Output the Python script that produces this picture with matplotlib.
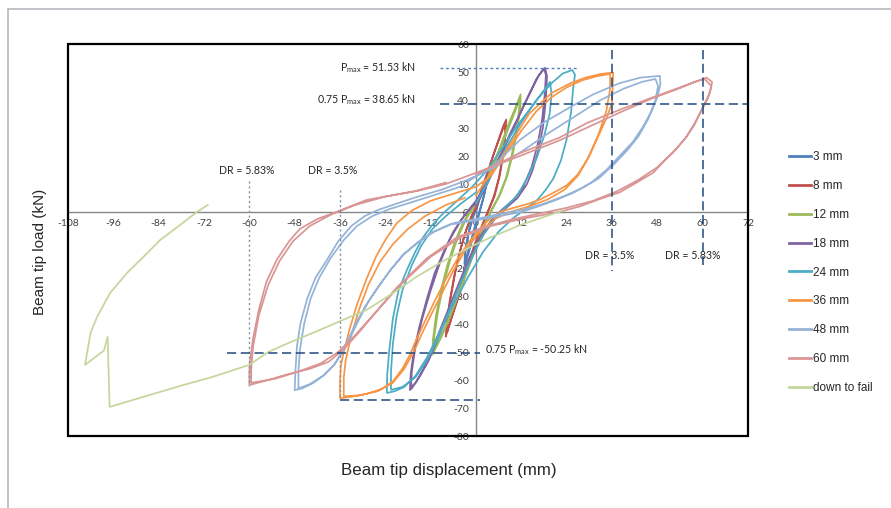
import matplotlib
matplotlib.use("Agg")
import matplotlib.pyplot as plt
from matplotlib.patches import Rectangle
from matplotlib.lines import Line2D

# ---------------- data ----------------
x_ticks = [-108, -96, -84, -72, -60, -48, -36, -24, -12, 0, 12, 24, 36, 48, 60, 72]
y_ticks = [-80, -70, -60, -50, -40, -30, -20, -10, 0, 10, 20, 30, 40, 50, 60]

series_names = ["3 mm", "8 mm", "12 mm", "18 mm", "24 mm", "36 mm", "48 mm", "60 mm", "down to fail"]
series_colors = ["#4F81BD", "#C0504D", "#9BBB59", "#8064A2", "#4BACC6", "#F79646", "#95B3D7", "#D99694", "#C3D69B"]

x_3mm = [0, 1, 2, 3, 3, 2.5, 1.8, 1, 0, -1, -2, -3, -3, -2.5, -1.8, -1, 0, 1, 2, 3, 2.9, 2.3, 1.5, 0.6, -0.5, -1.5, -2.5, -3, -2.8, -2, -1, 0]
y_3mm = [0, 5, 10, 14, 12, 8, 4, 0, -5, -10, -15, -19, -16, -11, -6, -2, 2, 6, 10.5, 13.5, 11, 7, 3, -1, -6, -11, -16, -18.5, -14, -8, -3, 1]

x_8mm = [0, 2, 4, 6, 7.3, 8, 7.9, 7.3, 6.3, 5, 3.5, 2, 0, -2, -4, -6, -7.5, -8, -7.8, -7, -5.8, -4.5, -3, -1.5, 0,
         2, 4, 6, 7.5, 7.8, 7.1, 6, 4.7, 3.2, 1.5, -0.5, -2.5, -4.5, -6.3, -7.6, -7.5, -6.6, -5.4, -4, -2.5, -1, 0.5]
y_8mm = [1, 9, 18, 26, 31, 33, 29, 21, 13, 6, 1, -4, -11, -19, -28, -36, -42, -44.5, -40, -32, -23, -15, -8, -2.5, 2,
         9.5, 18, 25.5, 31, 28, 20, 12, 5.5, 0.5, -5, -12, -20.5, -29.5, -37, -43, -38, -30, -21, -13, -6, -1, 3]

x_12mm = [0, 3, 6, 8.5, 10.5, 11.8, 11.8, 11, 9.8, 8.3, 6.5, 4.5, 2.5, 0.5, -2, -4.5, -7, -9.3, -11.2, -11.6, -11.4, -10.6,
          -9.3, -7.6, -5.7, -3.7, -1.5, 1, 3.5, 6, 8.5, 10.5, 11.5, 11.4, 10.6, 9.4, 7.9, 6, 4, 2, 0, -2.5, -5, -7.5,
          -9.8, -11.2, -11, -10, -8.6, -6.8, -4.8, -2.6, -0.5]
y_12mm = [2, 12, 22, 31, 37.5, 42, 38, 30, 21, 13, 6.5, 1.5, -4, -11, -20, -29, -38, -45, -50, -51, -45.5, -37,
          -28, -19, -11, -4.5, 0.5, 5.5, 13, 21, 29.5, 36.5, 40.5, 36.5, 28.5, 20, 12, 5.5, 0.5, -5, -12, -21, -30.5, -39,
          -46, -49.5, -44, -35, -26, -17, -9, -2.5, 2]

x_18mm = [0, 3, 6, 9, 11.6, 14, 16, 17.5, 18.3, 18.8, 18.5, 17.7, 16.5, 15, 13.5, 11, 8, 5, 2, -1, -4, -7, -10, -12.5,
          -15, -17, -17.5, -17.3, -16.5, -15, -13, -11, -8.5, -6, -3, 0, 3, 6, 9, 12, 14.5, 16.5, 18, 18.5, 18.2, 17.5,
          16.3, 14.7, 12.5, 10, 7, 4, 1, -2, -5, -8, -11, -13.5, -16, -17.2, -17, -16, -14.2, -12, -9.5, -7, -4, -1, 0]
y_18mm = [2, 10, 19, 28, 35, 42, 47.5, 50.5, 51.5, 48.5, 40, 30, 22, 15, 10, 5, 1.5, -2.5, -8, -16, -25, -35, -45, -53,
          -59, -63, -63.6, -58, -50, -41, -31, -22, -14, -7, -1, 4, 11, 19, 27, 36, 43, 48.5, 51, 49, 42, 33,
          24, 16, 9, 4.5, 1, -3, -9, -17, -27, -37, -47, -55, -61, -62.5, -57, -48, -38, -28, -18, -10, -3, 2, 3]

x_24mm = [0, 4, 8, 12, 16, 20, 23, 25.5, 26.2, 25.7, 25.2, 24, 22.5, 20.5, 18.5, 16, 13.5, 10, 6, 2, -2, -6, -10, -13,
          -16, -19, -21.5, -23.6, -23.5, -23, -22, -20.5, -18.3, -16, -14, -11.5, -8.7, -5, -1, 3, 7, 11, 15, 18, 19.6,
          20, 19.5, 18, 16, 13.5, 11, 8, 5, 2, -1, -4, -7, -10, -13, -16, -19.5, -22.5, -22.5, -22, -21, -19.5, -17,
          -14.5, -11.5, -8, -4, 0]
y_24mm = [3, 13, 23, 32, 40, 46, 49.5, 50.7, 49, 44, 36, 26, 18.5, 12, 8, 4, 1.5, -2, -7, -14, -23, -33, -44, -52,
          -58.5, -62.5, -64, -64.6, -58, -50, -38, -28, -20.7, -14, -9, -4.5, -0.5, 4, 9, 15, 23, 31, 38, 43.5, 46.5,
          42, 35, 27, 19, 12, 6, 2, -2, -8, -16, -25, -35, -45, -53, -59, -62.5, -63.5, -57, -47, -37, -28, -19,
          -12, -6, -1.5, 3, 7]

x_36mm = [0, 3, 8, 14, 20, 25, 29, 33, 36.3, 36.2, 36, 34.7, 32, 29.4, 27, 24, 20.4, 17, 14, 10, 7, 4, 1, -2, -5, -8,
          -11, -13.5, -15.6, -17.5, -19.5, -22, -25, -29, -33, -36, -36, -35.8, -35, -33.5, -31.5, -29, -26.5, -24,
          -21, -17, -12, -6, 0, 4, 8, 12, 16, 20, 24, 28, 32, 35.5, 35.5, 34.5, 32.5, 30, 27, 23.5, 19, 14, 9, 5, 1,
          -3, -6, -9, -12, -14.5, -16.5, -19, -22, -26, -31, -35, -35, -34.5, -33, -31, -28.5, -25.5, -22, -18, -13.5,
          -8, -3]
y_36mm = [6, 12, 22, 35, 42.5, 46, 48, 49.3, 49.8, 45, 39, 34, 26, 18.6, 13.5, 9.5, 6.8, 4.5, 3, 1.5, 0.3, -2, -6, -11,
          -17, -24, -32, -39, -45, -51, -56, -60.5, -63.2, -65, -66, -66.5, -61, -55, -50, -42, -33, -24, -16, -10,
          -4, 0.5, 4, 6.5, 9, 13, 21, 29, 36, 41, 44.5, 47, 48.5, 49.3, 44, 36, 28, 20, 13, 8, 4.5, 2, 0, -2.5, -7,
          -14, -21, -29, -37, -44, -50, -56, -61, -64, -65.5, -65.8, -59, -53, -44, -35, -26, -18, -11.5, -6, -1.5,
          2.5, 5]

x_48mm = [-2, 5, 11.6, 18, 25, 31, 38, 43.5, 48.7, 48.8, 48, 46.5, 44, 41.5, 38, 34.5, 30.5, 26, 21, 16.5, 12, 6, 0,
          -7, -12, -15.6, -19.5, -22.8, -26, -29, -31.5, -33.5, -35.5, -37.5, -40, -43, -46, -48, -47.8, -47.4, -46.5,
          -44.7, -42.5, -39.4, -36.5, -33, -29.5, -26, -21, -15.6, -9, -2.4, 5, 12, 19, 26, 33, 39, 44, 47.5, 48.2,
          47.5, 45.5, 43, 40, 36.5, 32.5, 28, 23, 18, 13, 7, 0, -6, -11, -15, -19, -22.5, -25.5, -28.5, -31, -33,
          -35, -37.5, -40.5, -44, -47, -47, -46.6, -45.5, -43.8, -41.5, -38.5, -35, -31.5, -27.5, -23, -17, -10, -3]
y_48mm = [11, 17, 25.7, 32, 37.5, 42, 46, 48, 48.6, 45.5, 41, 36, 30, 25, 20, 15, 10.5, 7, 4.2, 2, 0, -1.5, -3,
          -4.5, -7.5, -11, -15.5, -21, -27, -33, -39, -44.5, -50, -54.5, -58, -61, -63, -63.6, -57, -48, -40,
          -31, -23.5, -17, -10.5, -5, -1.5, 0.7, 3, 5.4, 8, 11.4, 16, 21.5, 28, 34, 40, 44, 46.5, 47.5, 45,
          40, 33, 27, 22, 17, 12, 8.5, 5.5, 3, 1, -0.5, -2.5, -4, -7, -10.5, -15, -20.5, -26, -32, -38.5, -44,
          -49.5, -54.5, -58.5, -61.5, -63, -57, -49, -40, -31, -23.5, -16.5, -10, -5, -1.5, 1, 3.5, 6.5, 9.5]

x_60mm = [0, 11.6, 22, 29.4, 38, 46.9, 54, 58, 61, 62.5, 62, 61, 59.5, 57.8, 55.8, 53, 50, 46.9, 42.5, 38, 32.5,
          27.5, 22, 12, 4, -4, -12, -20, -26, -31, -35, -39, -44, -50, -55, -60, -60, -59.8, -59, -57.5, -55.5,
          -52.7, -49.5, -46.6, -42, -37, -29, -22, -15.6, -8, 0, 11.6, 22, 30, 38, 46.5, 53.5, 58, 60.5, 62.3,
          61.5, 60, 58, 55.5, 52, 48, 43, 37.5, 31, 24, 17, 10, 3, -5, -13, -21, -27, -32, -36.5, -41, -47, -53,
          -59.5, -59.5, -59, -57.5, -55, -52, -48.5, -44, -38.5, -32, -24, -16, -8]
y_60mm = [13.5, 21, 26.5, 31.8, 36.5, 41, 44.5, 46.5, 48, 46.4, 43, 40, 36, 31, 27, 22.5, 18.5, 14, 10.5, 7, 4.5,
          2, 0, -2.5, -5, -9, -16, -26, -35, -43, -49, -53.5, -56, -58, -60, -61.8, -57, -53, -45, -35, -25,
          -17, -10.5, -6, -2.5, 0, 4.3, 6, 7.5, 10, 14, 20, 25.5, 30.5, 35.5, 40.5, 44, 46.5, 47.5, 45,
          41, 37, 32, 26.5, 21, 16, 11.5, 7.5, 4, 1.5, -0.5, -2.5, -5, -9, -16.5, -27, -36.5, -44, -50, -54, -57,
          -59.5, -61, -56, -48, -37, -26, -17.5, -10.5, -5, -1, 2.5, 5.5, 7.5, 10.5]

x_fail = [23, 12, 4, 0, -8, -15.6, -22, -29, -36, -42, -50, -55, -60, -70, -78, -88, -97, -97.5, -98.5, -103.5,
          -102, -100.3, -96.9, -92.4, -88, -83.6, -78.3, -73.9, -71]
y_fail = [0.5, -4.5, -9, -11.5, -17, -23, -29, -35, -39, -42.5, -47, -50, -54.6, -59, -62, -66, -69.6, -44.6, -49.5,
          -54.6, -43, -37.5, -29, -21.8, -16, -10, -4.6, 0, 2.5]

series_x = [x_3mm, x_8mm, x_12mm, x_18mm, x_24mm, x_36mm, x_48mm, x_60mm, x_fail]
series_y = [y_3mm, y_8mm, y_12mm, y_18mm, y_24mm, y_36mm, y_48mm, y_60mm, y_fail]

p_max = 51.53
p75_pos = 38.65
p75_neg = -50.25
p_min = -67.0
dr_35 = 36
dr_583 = 60

# ---------------- figure ----------------
W, H = 891, 508
fig = plt.figure(figsize=(W / 100, H / 100), dpi=100)
fig.patch.set_facecolor("white")

# outer light border
fig.add_artist(Rectangle((8 / W, -0.1), 1.2, 1 - 9 / H + 0.1, transform=fig.transFigure,
                         fill=False, edgecolor="#B4B8BE", lw=1.2))

ax = fig.add_axes([68 / W, 1 - 436 / H, 680 / W, 392 / H])
ax.set_xlim(-108, 72)
ax.set_ylim(-80, 60)

for s in ["top", "right"]:
    ax.spines[s].set_visible(False)
ax.spines["left"].set_position(("data", 0))
ax.spines["bottom"].set_position(("data", 0))
for s in ["left", "bottom"]:
    ax.spines[s].set_color("#868686")
    ax.spines[s].set_linewidth(1.0)
    ax.spines[s].set_zorder(1)

# plot-area frame
ax.add_patch(Rectangle((0, 0), 1, 1, transform=ax.transAxes, fill=False,
                       edgecolor="black", lw=1.6, zorder=10, clip_on=False))

tick_font = dict(family=["Lato", "DejaVu Sans"], size=7.5, color="#404040")
ax.set_xticks(x_ticks)
ax.set_yticks(y_ticks)
ax.set_xticklabels([str(v) for v in x_ticks], **tick_font)
ax.set_yticklabels([str(v) for v in y_ticks], **tick_font)
ax.tick_params(axis="both", length=0, pad=5)

# series
for xs, ys, c in zip(series_x, series_y, series_colors):
    ax.plot(xs, ys, color=c, lw=1.25, solid_joinstyle="round", zorder=3)

# reference lines
dark = "#1F497D"
ax.plot([-9.5, 26.7], [p_max, p_max], color="#4F81BD", lw=1.0, ls=(0, (2, 2)), zorder=4)
ax.plot([-9.5, 72], [p75_pos, p75_pos], color=dark, lw=1.1, ls=(0, (6, 3)), zorder=4)
ax.plot([dr_35, dr_35], [58, -21], color=dark, lw=1.1, ls=(0, (6, 3)), zorder=4)
ax.plot([dr_583, dr_583], [58, -19], color=dark, lw=1.1, ls=(0, (6, 3)), zorder=4)
ax.plot([-dr_583, -dr_583], [11, -62], color="#7F8FA9", lw=1.0, ls=(0, (1.5, 2)), zorder=4)
ax.plot([-dr_35, -dr_35], [8, -66.5], color="#7F8FA9", lw=1.0, ls=(0, (1.5, 2)), zorder=4)
ax.plot([-66, 1], [p75_neg, p75_neg], color=dark, lw=1.1, ls=(0, (6, 3)), zorder=4)
ax.plot([-36, 1], [p_min, p_min], color=dark, lw=1.1, ls=(0, (6, 3)), zorder=4)

ann = dict(family=["Lato", "DejaVu Sans"], size=7.6, color="#262626", zorder=6)
ax.text(-16, 51.53, r"P$_{\mathregular{max}}$ = 51.53 kN", ha="right", va="center", **ann)
ax.text(-16, 40, r"0.75 P$_{\mathregular{max}}$ = 38.65 kN", ha="right", va="center", **ann)
ax.text(-60.6, 15, "DR = 5.83%", ha="center", va="center", **ann)
ax.text(-38, 15, "DR = 3.5%", ha="center", va="center", **ann)
ax.text(35.5, -15.4, "DR = 3.5%", ha="center", va="center", **ann)
ax.text(57.4, -15.4, "DR = 5.83%", ha="center", va="center", **ann)
ax.text(2.4, -49.3, r"0.75 P$_{\mathregular{max}}$ = -50.25 kN", ha="left", va="center", **ann)

# axis titles
fig.text(449 / W, 1 - 470 / H, "Beam tip displacement (mm)", ha="center", va="center",
         family=["Liberation Sans", "DejaVu Sans"], size=12.2, color="#262626")
fig.text(40 / W, 1 - 252 / H, "Beam tip load (kN)", ha="center", va="center", rotation=90,
         family=["Liberation Sans", "DejaVu Sans"], size=11, color="#262626")

# legend
handles = [Line2D([], [], color=c, lw=2.0) for c in series_colors]
leg = ax.legend(handles, series_names, loc="upper left", bbox_to_anchor=(789 / W, 1 - 151 / H),
                bbox_transform=fig.transFigure, frameon=False, borderpad=0, borderaxespad=0,
                handlelength=1.9, handletextpad=0.12, labelspacing=1.43,
                prop={"family": ["Liberation Sans", "DejaVu Sans"], "size": 8.5})
for t in leg.get_texts():
    t.set_color("#262626")

fig.savefig("out.png", dpi=100, facecolor="white")
